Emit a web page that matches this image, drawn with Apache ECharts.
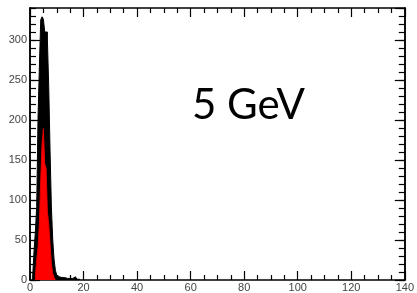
<!DOCTYPE html>
<html>
<head>
<meta charset="utf-8">
<script src="https://cdn.jsdelivr.net/npm/echarts@6/dist/echarts.min.js"></script>
<style>
  html, body { margin: 0; padding: 0; background: #fff; }
  #chart { width: 417px; height: 293px; }
</style>
</head>
<body>
<div id="chart"></div>
<script>
// histogram bins, 0.5 GeV wide
var binWidth = 0.5
var blackStart = 1.0
var blackCounts = [5, 36, 60, 92, 204, 266, 325, 329, 326, 310, 310, 300, 241, 160, 90, 50, 25, 12,
                   6, 4, 3, 3, 2, 3, 2, 2, 3, 2, 4, 2, 3, 4, 2, 1, 1]
var redStart = 2.0
var redCounts = [5, 25, 40, 70, 125, 170, 189, 145, 140, 85, 70, 45, 20, 8, 3]

var xTicks = [0, 20, 40, 60, 80, 100, 120, 140]
var yTicks = [0, 50, 100, 150, 200, 250, 300]
var label = '5 GeV'

function stepData(start, counts) {
  var pts = [[start, 0]]
  counts.forEach(function(c, i) {
    pts.push([start + i * binWidth, c])
  })
  pts.push([start + counts.length * binWidth, 0])
  return pts
}

var chart = echarts.init(document.getElementById('chart'))

var frame = { lineStyle: { color: '#000', width: 1.5 } }

function yAx(pos, interval, len, labels) {
  return {
    type: 'value', position: pos, min: 0, max: 340, interval: interval,
    axisLine: { show: true, lineStyle: frame.lineStyle },
    axisTick: { show: true, inside: true, length: len, lineStyle: { color: '#000', width: 1.2 } },
    axisLabel: {
      show: labels, margin: 3, color: '#444', fontSize: 11, fontFamily: 'Liberation Sans',
      showMaxLabel: false
    },
    splitLine: { show: false }
  }
}

function xAx(pos, labels) {
  return {
    type: 'value', position: pos, min: xTicks[0], max: xTicks[xTicks.length - 1], interval: 20,
    axisLine: { show: true, onZero: false, lineStyle: frame.lineStyle },
    axisTick: { show: true, inside: true, length: 9, lineStyle: { color: '#000', width: 1.2 } },
    minorTick: { show: true, splitNumber: 4, length: 5, lineStyle: { color: '#000', width: 1.2 } },
    axisLabel: { show: labels, margin: 2, color: '#444', fontSize: 11, fontFamily: 'Liberation Sans' },
    splitLine: { show: false }
  }
}

chart.setOption({
  animation: false,
  backgroundColor: '#fff',
  grid: { left: 30, right: 11, top: 8, bottom: 12 },
  xAxis: [xAx('bottom', true), xAx('top', false)],
  yAxis: [
    yAx('left', 50, 10, true),
    yAx('left', 10, 6, false),
    yAx('right', 50, 10, false),
    yAx('right', 10, 6, false)
  ],
  series: [
    {
      type: 'line', step: 'end', symbol: 'none',
      data: stepData(blackStart, blackCounts),
      lineStyle: { color: '#000', width: 1 },
      areaStyle: { color: '#000', opacity: 1 }
    },
    {
      type: 'line', step: 'end', symbol: 'none',
      data: stepData(redStart, redCounts),
      lineStyle: { color: '#e00000', width: 1 },
      areaStyle: { color: '#ff0000', opacity: 1 }
    }
  ],
  graphic: [{
    type: 'text', left: 192, top: 84,
    style: { text: label, fontSize: 42, fontFamily: 'Lato', fill: '#000' }
  }]
})
</script>
</body>
</html>
